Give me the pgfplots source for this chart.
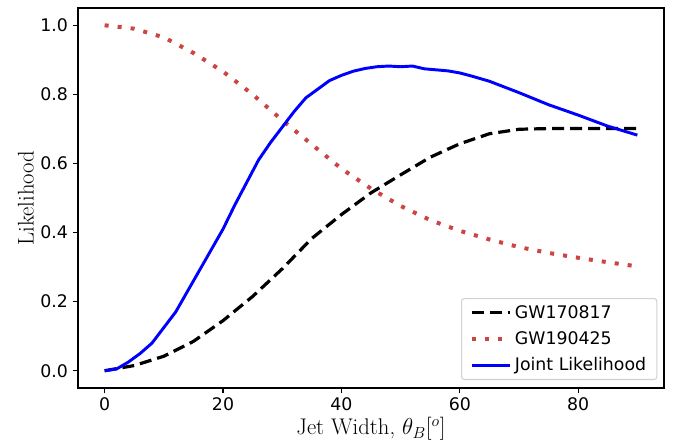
\documentclass[border=0pt]{standalone}
\usepackage{pgfplots}
\pgfplotsset{compat=1.18}
\usepackage{fontspec}
\newfontfamily\dejavu{DejaVu Sans}
\usetikzlibrary{calc}
\definecolor{myred}{RGB}{204,68,68}
\definecolor{myblue}{RGB}{0,0,255}
\begin{document}
\begin{tikzpicture}
\begin{axis}[
  name=ax,
  scale only axis,
  width=439.5pt, height=285pt,
  xmin=-4.5, xmax=94.5,
  ymin=-0.05, ymax=1.05,
  xtick={0,20,40,60,80},
  ytick={0,0.2,0.4,0.6,0.8,1.0},
  tick align=outside,
  tick pos=left,
  major tick length=4pt,
  every tick/.style={black, line width=0.9pt},
  axis line style={line width=1.1pt},
  /pgf/number format/assume math mode=true,
  yticklabel style={/pgf/number format/fixed,/pgf/number format/precision=1,/pgf/number format/fixed zerofill},
  ticklabel style={font=\dejavu\fontsize{13}{15}\selectfont},
  xlabel={Jet Width, $\theta_B[^o]$},
  ylabel={Likelihood},
  label style={font=\fontsize{17}{20}\selectfont},
  xlabel style={yshift=2pt},
  ylabel style={yshift=-2pt},
  legend image code/.code={\draw[#1] (0pt,0pt) -- (29pt,0pt);},
  legend cell align=left,
  legend style={
    at={(axis description cs:1,0)}, anchor=south east,
    xshift=-5pt, yshift=6pt,
    draw=black!18, line width=0.8pt, rounded corners=2pt,
    font=\dejavu\fontsize{13}{15}\selectfont,
    row sep=4.5pt, inner xsep=6pt, inner ysep=3pt,
    /tikz/every even column/.append style={column sep=2pt},
  },
]
\addplot[black, line width=2.4pt, dash pattern=on 9pt off 4.5pt] coordinates {
(0,0) (5,0.015) (10,0.042) (15,0.085) (20,0.145) (25,0.215) (30,0.295) (35,0.383) (40,0.452) (45,0.515) (50,0.567) (55,0.618) (60,0.657) (65,0.686) (70,0.699) (75,0.701) (80,0.701) (85,0.701) (90,0.701)};
\addlegendentry{GW170817}
\addplot[myred, line width=3pt, dash pattern=on 3pt off 6.8pt] coordinates {
(0,1.0) (5,0.99) (10,0.965) (15,0.92) (20,0.866) (25,0.80) (30,0.725) (35,0.655) (40,0.585) (45,0.527) (50,0.477) (55,0.436) (60,0.405) (65,0.38) (70,0.358) (75,0.341) (80,0.327) (85,0.314) (90,0.302)};
\addlegendentry{GW190425}
\addplot[myblue, line width=2.2pt] coordinates {
(0,0) (2,0.005) (4,0.025) (6,0.05) (8,0.08) (10,0.125) (12,0.17) (14,0.23) (16,0.29) (18,0.35) (20,0.41) (22,0.48) (24,0.545) (26,0.61) (28,0.66) (30,0.705) (32,0.75) (34,0.79) (36,0.815) (38,0.84) (40,0.855) (42,0.867) (44,0.875) (46,0.88) (48,0.882) (50,0.88) (52,0.882) (54,0.874) (56,0.871) (58,0.868) (60,0.862) (62,0.853) (65,0.838) (70,0.805) (75,0.77) (80,0.74) (85,0.708) (90,0.682)};
\addlegendentry{Joint Likelihood}
\end{axis}
\pgfresetboundingbox
\path[use as bounding box] ($(ax.south west)+(-58.5pt,-44.25pt)$) rectangle ($(ax.north east)+(6.75pt,6pt)$);
\end{tikzpicture}
\end{document}
